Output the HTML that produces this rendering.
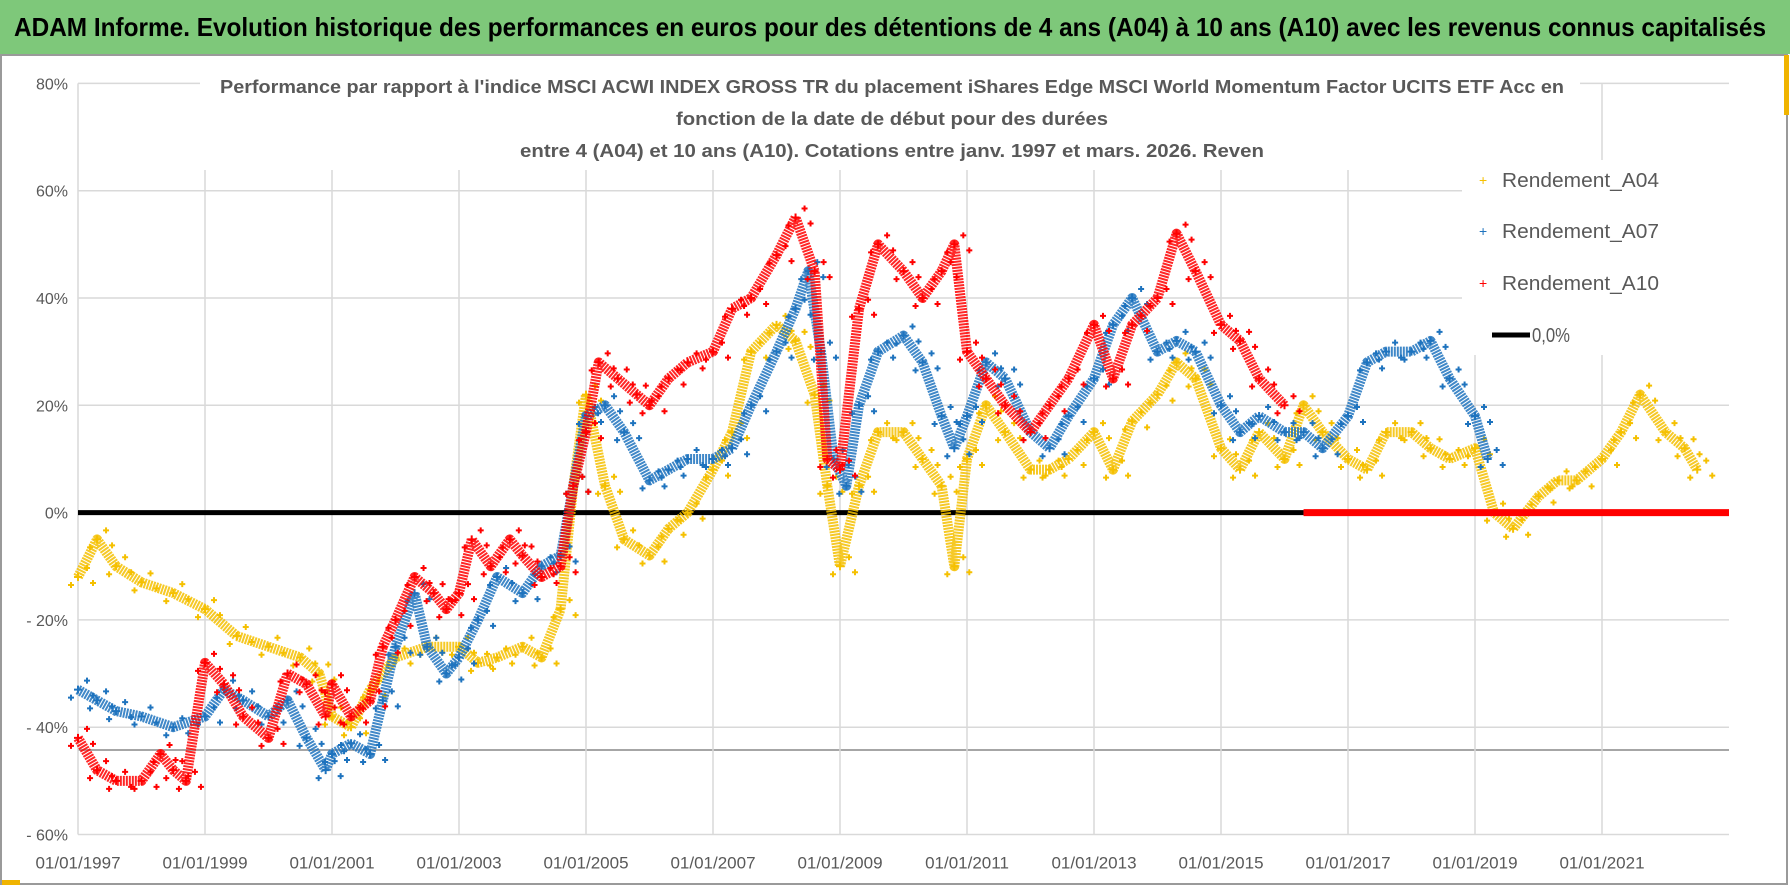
<!DOCTYPE html>
<html><head><meta charset="utf-8"><style>
html,body{margin:0;padding:0;background:#fff;}
svg{display:block;font-family:"Liberation Sans",sans-serif;}
</style></head><body>
<svg id="chart" width="1790" height="886" viewBox="0 0 1790 886">
<rect x="0" y="0" width="1790" height="886" fill="#fff"/>
<rect x="0" y="0" width="1790" height="54" fill="#7ec87a"/>
<text x="14" y="36" font-size="26" font-weight="bold" fill="#000" textLength="1752" lengthAdjust="spacingAndGlyphs">ADAM Informe. Evolution historique des performances en euros pour des détentions de 4 ans (A04) à 10 ans (A10) avec les revenus connus capitalisés</text>
<rect x="1" y="55" width="1786" height="829" fill="none" stroke="#9a9a9a" stroke-width="2"/>
<rect x="1784" y="55" width="5" height="60" fill="#f0b400"/>
<rect x="2" y="880" width="18" height="5" fill="#f0b400"/>
<g id="grid"></g>
<g id="marks"></g>
<rect x="1462" y="160" width="268" height="195" fill="#fff"/>
<rect x="200" y="70" width="1380" height="100" fill="#fff"/>
<g fill="#595959" font-size="18" font-weight="bold" text-anchor="middle">
<text x="892" y="93" textLength="1344" lengthAdjust="spacingAndGlyphs">Performance par rapport à l'indice MSCI ACWI INDEX GROSS TR  du placement iShares Edge MSCI World Momentum Factor UCITS ETF Acc en</text>
<text x="892" y="125" textLength="432" lengthAdjust="spacingAndGlyphs">fonction de la date de début pour des durées</text>
<text x="892" y="157" textLength="744" lengthAdjust="spacingAndGlyphs">entre 4 (A04) et 10 ans (A10). Cotations entre janv. 1997 et mars. 2026. Reven</text>
</g>
<g id="legend" font-size="20" fill="#595959">
<g><text x="1479" y="185" fill="#f5c000" font-size="14">+</text><text x="1502" y="187" textLength="157" lengthAdjust="spacingAndGlyphs">Rendement_A04</text></g>
<g><text x="1479" y="236" fill="#1e73be" font-size="14">+</text><text x="1502" y="238" textLength="157" lengthAdjust="spacingAndGlyphs">Rendement_A07</text></g>
<g><text x="1479" y="288" fill="#ff0000" font-size="14">+</text><text x="1502" y="290" textLength="157" lengthAdjust="spacingAndGlyphs">Rendement_A10</text></g>
<g><line x1="1492" y1="335" x2="1530" y2="335" stroke="#000" stroke-width="5"/><text x="1532" y="342" textLength="38" lengthAdjust="spacingAndGlyphs">0,0%</text></g>
</g>
</svg>
<script>
const yTicks=[80,60,40,20,0,-20,-40,-60];
const yTickLabels=["80%","60%","40%","20%","0%","- 20%","- 40%","- 60%"];
const xTickYears=[1997,1999,2001,2003,2005,2007,2009,2011,2013,2015,2017,2019,2021];
const xTickLabels=["01/01/1997","01/01/1999","01/01/2001","01/01/2003","01/01/2005","01/01/2007","01/01/2009","01/01/2011","01/01/2013","01/01/2015","01/01/2017","01/01/2019","01/01/2021"];
const datesA04=[1997.0,1997.3,1997.6,1998.0,1998.5,1999.0,1999.5,2000.0,2000.5,2000.8,2001.0,2001.3,2001.6,2002.0,2002.5,2003.0,2003.3,2003.6,2004.0,2004.3,2004.6,2004.8,2005.0,2005.3,2005.6,2006.0,2006.3,2006.6,2007.0,2007.3,2007.6,2008.0,2008.3,2008.6,2008.8,2009.0,2009.3,2009.6,2010.0,2010.3,2010.6,2010.8,2011.0,2011.3,2011.6,2012.0,2012.3,2012.6,2013.0,2013.3,2013.6,2014.0,2014.3,2014.6,2015.0,2015.3,2015.6,2016.0,2016.3,2016.6,2017.0,2017.3,2017.6,2018.0,2018.3,2018.6,2019.0,2019.3,2019.6,2020.0,2020.3,2020.6,2021.0,2021.3,2021.6,2022.0,2022.3,2022.5];
const valuesA04=[-12,-5,-10,-13,-15,-18,-23,-25,-27,-30,-38,-40,-33,-27,-25,-25,-28,-27,-25,-27,-18,5,22,5,-5,-8,-3,0,8,15,30,35,32,22,5,-10,5,15,15,10,5,-10,10,20,15,8,8,10,15,8,17,22,28,25,12,8,15,10,20,15,10,8,15,15,12,10,12,0,-3,3,6,6,10,15,22,15,12,8];
const datesA07=[1997.0,1997.3,1997.6,1998.0,1998.5,1999.0,1999.3,1999.6,2000.0,2000.3,2000.6,2000.9,2001.0,2001.3,2001.6,2001.8,2002.0,2002.3,2002.5,2002.8,2003.0,2003.3,2003.6,2004.0,2004.3,2004.6,2004.8,2005.0,2005.3,2005.6,2006.0,2006.3,2006.6,2007.0,2007.3,2007.6,2008.0,2008.3,2008.5,2008.7,2008.9,2009.1,2009.3,2009.6,2010.0,2010.3,2010.6,2010.8,2011.0,2011.3,2011.6,2012.0,2012.3,2012.6,2013.0,2013.3,2013.6,2014.0,2014.3,2014.6,2015.0,2015.3,2015.6,2016.0,2016.3,2016.6,2017.0,2017.3,2017.6,2018.0,2018.3,2018.6,2019.0,2019.2];
const valuesA07=[-33,-35,-37,-38,-40,-38,-33,-35,-38,-35,-42,-48,-45,-43,-45,-35,-25,-15,-25,-30,-27,-20,-12,-15,-10,-8,5,18,20,15,6,8,10,10,12,20,30,38,45,30,10,5,20,30,33,28,18,12,18,28,25,15,12,18,25,35,40,30,32,30,20,15,18,15,15,12,18,28,30,30,32,25,18,10];
const datesA10=[1997.0,1997.3,1997.6,1998.0,1998.3,1998.5,1998.7,1999.0,1999.3,1999.6,2000.0,2000.3,2000.6,2000.9,2001.0,2001.3,2001.6,2001.8,2002.0,2002.3,2002.6,2002.8,2003.0,2003.2,2003.5,2003.8,2004.0,2004.3,2004.6,2004.8,2005.0,2005.2,2005.5,2005.8,2006.0,2006.3,2006.6,2007.0,2007.3,2007.6,2008.0,2008.3,2008.6,2008.8,2009.0,2009.3,2009.6,2010.0,2010.3,2010.6,2010.8,2011.0,2011.3,2011.6,2012.0,2012.3,2012.6,2013.0,2013.3,2013.6,2014.0,2014.3,2014.6,2015.0,2015.3,2015.6,2016.0];
const valuesA10=[-42,-48,-50,-50,-45,-48,-50,-28,-32,-38,-42,-30,-32,-38,-32,-38,-35,-25,-20,-12,-15,-18,-15,-5,-10,-5,-8,-12,-10,5,15,28,25,22,20,25,28,30,38,40,48,55,45,10,8,38,50,45,40,45,50,30,25,20,15,20,25,35,25,35,40,52,45,35,32,25,20];
const zeroLineStart=1997, zeroLineEnd=2016.3, zeroBandEnd=2023;

const X0=78, X1=1729, XMIN=1997, XMAX=2023;
const Y0=512.6, PX_PER_PCT=107.3/20;
function xs(t){return X0+(t-XMIN)*(X1-X0)/(XMAX-XMIN);}
function ys(v){return Y0-v*PX_PER_PCT;}
const NS="http://www.w3.org/2000/svg";
function mk(tag,attrs,parent){const e=document.createElementNS(NS,tag);for(const k in attrs)e.setAttribute(k,attrs[k]);parent.appendChild(e);return e;}
const grid=document.getElementById('grid'), marks=document.getElementById('marks');

yTicks.forEach((v,i)=>{
  const l=mk('line',{x1:X0,x2:X1,y1:ys(v),y2:ys(v),stroke:'#d9d9d9','stroke-width':1.5},grid);
  
  
  const t=mk('text',{x:X0-10,y:ys(v)+6,'text-anchor':'end','font-size':16,fill:'#595959'},grid);
  t.textContent=yTickLabels[i];
  
  
});
const extra=mk('line',{x1:X0,x2:X1,y1:750,y2:750,stroke:'#a6a6a6','stroke-width':2},grid);


xTickYears.forEach((yr,i)=>{
  const l=mk('line',{x1:xs(yr),x2:xs(yr),y1:ys(80),y2:ys(-60),stroke:'#d9d9d9','stroke-width':1.5},grid);
  
  
  const t=mk('text',{x:xs(yr),y:ys(-60)+34,'text-anchor':'middle','font-size':17,fill:'#595959'},grid);
  t.textContent=xTickLabels[i];
  
  
});

const zl=mk('line',{x1:xs(zeroLineStart),x2:xs(zeroLineEnd),y1:ys(0),y2:ys(0),stroke:'#000','stroke-width':5},marks);



function series(dates,vals,color,name){
  const g=mk('g',{},marks);
  
  
  const pts=dates.map((d,i)=>xs(d)+','+ys(vals[i])).join(' ');
  const pl=mk('polyline',{points:pts,fill:'none',stroke:color,'stroke-width':10,'stroke-linejoin':'round','stroke-dasharray':'2 1',opacity:0.85},g);
  
  
  dates.forEach((d,i)=>{
    const x=xs(d), y=ys(vals[i]);
    const p=mk('path',{d:`M${x-4} ${y}H${x+4}M${x} ${y-4}V${y+4}M${x+6} ${y-9}H${x+12}M${x+9} ${y-12}V${y-6}M${x-10} ${y+8}H${x-4}M${x-7} ${y+5}V${y+11}M${x+12} ${y+6}H${x+18}M${x+15} ${y+3}V${y+9}`,stroke:color,'stroke-width':2,fill:'none'},g);
    
    
  });
}
series(datesA04,valuesA04,'#f5c000','series-a04');
series(datesA07,valuesA07,'#1e73be','series-a07');
series(datesA10,valuesA10,'#ff0000','series-a10');
const zb=mk('line',{x1:xs(zeroLineEnd),x2:xs(zeroBandEnd),y1:ys(0),y2:ys(0),stroke:'#ff0000','stroke-width':7},marks);


</script>
</body></html>
